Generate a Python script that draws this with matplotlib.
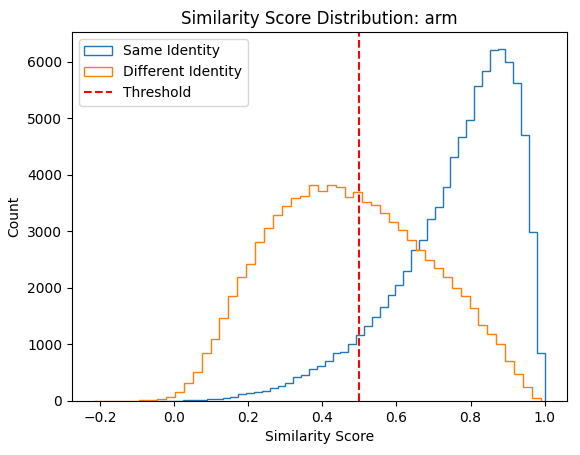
import numpy as np
import matplotlib
matplotlib.use("Agg")
import matplotlib.pyplot as plt

# Different identity: 50 bins from -0.215 to ~0.99
diff_lo, diff_hi = -0.215, 0.99
diff_counts = [1, 1, 2, 3, 5, 8, 20, 30,
               60, 154, 313, 508, 844, 1087, 1458, 1853, 2183, 2414, 2814, 3051,
               3281, 3440, 3582, 3617, 3818, 3706, 3818, 3790, 3600, 3690,
               3511, 3463, 3316, 3162, 3015, 2838, 2661, 2490, 2343, 2183,
               1994, 1858, 1635, 1340, 1186, 1003, 697, 472, 237, 42]

# Same identity: 50 bins from -0.06 to 1.0
same_lo, same_hi = -0.06, 1.0
same_counts = [5, 3, 2, 5, 8, 10, 15, 40, 40, 52,
               65, 113, 131, 149, 172, 219, 265, 319, 414, 460,
               555, 620, 708, 844, 867, 1009, 1163, 1322, 1481, 1658,
               1865, 2042, 2290, 2661, 2838, 3210, 3423, 3782, 4313, 4667,
               4968, 5565, 5830, 6200, 6219, 5989, 5628, 4697, 2991, 844]

threshold = 0.5

fig, ax = plt.subplots(figsize=(5.8, 4.55), dpi=100)
se = np.linspace(same_lo, same_hi, len(same_counts) + 1)
de = np.linspace(diff_lo, diff_hi, len(diff_counts) + 1)
ax.hist(se[:-1], bins=se, weights=same_counts, histtype='step', color='#1f77b4', label='Same Identity')
ax.hist(de[:-1], bins=de, weights=diff_counts, histtype='step', color='#ff7f0e', label='Different Identity')
ax.axvline(threshold, color='red', linestyle='--', label='Threshold')
ax.set_title('Similarity Score Distribution: arm')
ax.set_xlabel('Similarity Score')
ax.set_ylabel('Count')
ax.legend(loc='upper left')
fig.subplots_adjust(left=0.124, right=0.978, top=0.93, bottom=0.119)
fig.savefig('out.png')
